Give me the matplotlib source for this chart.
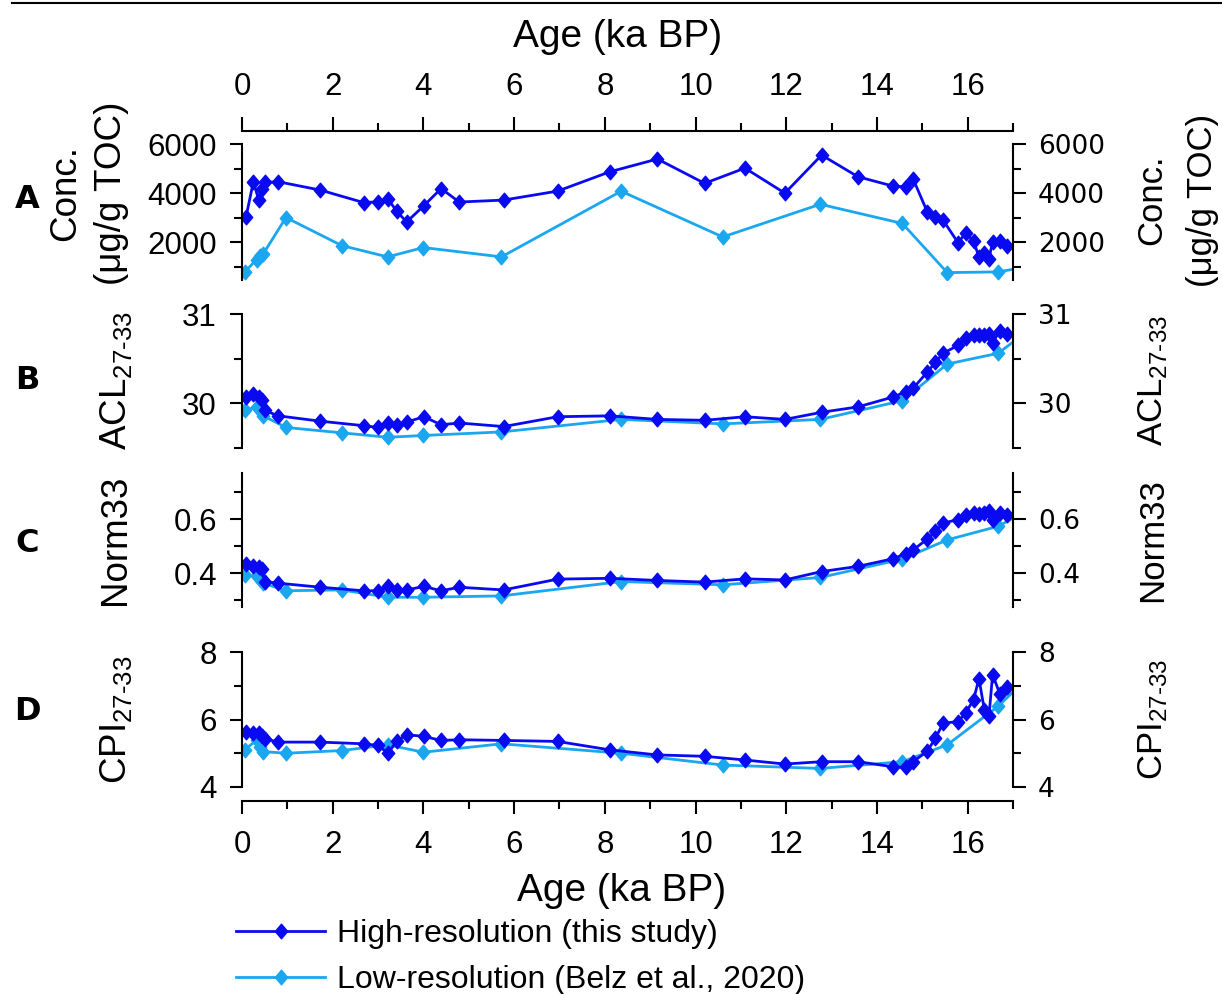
import matplotlib
matplotlib.use("Agg")
import matplotlib.pyplot as plt
from matplotlib.lines import Line2D
from matplotlib.path import Path

plt.rcParams['font.family'] = ['Liberation Sans', 'DejaVu Sans']
plt.rcParams['mathtext.fontset'] = 'custom'
plt.rcParams['mathtext.rm'] = 'Liberation Sans'
plt.rcParams['mathtext.it'] = 'Liberation Sans:italic'
plt.rcParams['mathtext.bf'] = 'Liberation Sans:bold'

# ---------------- data ----------------
age_hi = [0.09, 0.25, 0.37, 0.44, 0.50, 0.80, 1.73, 2.68, 3.00, 3.22, 3.41, 3.63,
          4.01, 4.39, 4.79, 5.77, 6.96, 8.11, 9.16, 10.20, 11.09, 11.97, 12.78,
          13.58, 14.35, 14.64, 14.80, 15.11, 15.29, 15.46, 15.79, 15.96, 16.13,
          16.25, 16.37, 16.47, 16.55, 16.71, 16.86]
conc_hi = [3040, 4465, 3720, 4150, 4440, 4465, 4125, 3620, 3650, 3760, 3270, 2830,
           3490, 4190, 3640, 3720, 4085, 4870, 5390, 4400, 5020, 4000, 5550,
           4670, 4290, 4260, 4570, 3240, 3040, 2900, 1980, 2390, 2050,
           1410, 1570, 1340, 2020, 2060, 1840]
acl_hi = [30.075, 30.10, 30.07, 30.04, 29.92, 29.86, 29.80, 29.75, 29.73, 29.78, 29.76, 29.79,
          29.85, 29.76, 29.78, 29.74, 29.85, 29.86, 29.82, 29.81, 29.85, 29.82, 29.90,
          29.96, 30.07, 30.13, 30.17, 30.35, 30.46, 30.56, 30.65, 30.73, 30.76,
          30.765, 30.76, 30.78, 30.68, 30.81, 30.78]
norm_hi = [0.433, 0.427, 0.422, 0.416, 0.369, 0.363, 0.348, 0.335, 0.335, 0.351, 0.336, 0.338,
           0.351, 0.335, 0.348, 0.338, 0.378, 0.381, 0.373, 0.367, 0.379, 0.375, 0.406,
           0.425, 0.453, 0.472, 0.486, 0.526, 0.554, 0.585, 0.598, 0.616, 0.622,
           0.620, 0.622, 0.628, 0.598, 0.622, 0.616]
cpi_hi = [5.64, 5.59, 5.60, 5.52, 5.43, 5.33, 5.33, 5.28, 5.23, 5.00, 5.36, 5.55,
          5.50, 5.38, 5.40, 5.38, 5.35, 5.10, 4.95, 4.91, 4.80, 4.68, 4.75,
          4.75, 4.60, 4.58, 4.75, 5.06, 5.45, 5.89, 5.94, 6.20, 6.59,
          7.21, 6.27, 6.09, 7.33, 6.76, 6.96]

age_lo = [0.06, 0.32, 0.39, 0.47, 0.97, 2.20, 3.21, 4.00, 5.72, 8.36, 10.60, 12.75,
          14.56, 15.55, 16.67, 17.30]
conc_lo = [800, 1300, 1430, 1540, 3010, 1870, 1410, 1790, 1410, 4080, 2220, 3550,
           2770, 770, 800, 1000]
acl_lo = [29.92, 29.96, 29.93, 29.86, 29.73, 29.67, 29.62, 29.64, 29.68, 29.82, 29.77, 29.82,
          30.03, 30.44, 30.56, 30.80]
norm_lo = [0.394, 0.388, 0.380, 0.363, 0.335, 0.338, 0.311, 0.311, 0.316, 0.369, 0.357, 0.384,
           0.452, 0.523, 0.573, 0.630]
cpi_lo = [5.11, 5.38, 5.20, 5.05, 5.00, 5.08, 5.25, 5.03, 5.28, 5.00, 4.65, 4.55,
          4.75, 5.25, 6.39, 7.20]

series_labels = ['High-resolution (this study)', 'Low-resolution (Belz et al., 2020)']
panel_letters = ['A', 'B', 'C', 'D']
ylabels = ['Conc.\n(μg/g TOC)', r'ACL$_{27\text{-}33}$', 'Norm33', r'CPI$_{27\text{-}33}$']
x_major = [0, 2, 4, 6, 8, 10, 12, 14, 16]
x_minor = [1, 3, 5, 7, 9, 11, 13, 15, 17]
x_label = 'Age (ka BP)'
y_major = [[2000, 4000, 6000], [30, 31], [0.4, 0.6], [4, 6, 8]]
y_major_labels = [['2000', '4000', '6000'], ['30', '31'], ['0.4', '0.6'], ['4', '6', '8']]
y_minor = [[1000, 3000, 5000], [29.5, 30.5], [0.3, 0.5, 0.7], [5, 7]]
y_limits = [(470, 6000), (29.5, 31), (0.275, 0.77), (4, 8)]

hi_series = [conc_hi, acl_hi, norm_hi, cpi_hi]
lo_series = [conc_lo, acl_lo, norm_lo, cpi_lo]

# ---------------- layout / style ----------------
W, H = 1222, 994
DARK = '#0A0AF2'
LIGHT = '#1AA7F0'
SPW = 1.5
LW = 2.0
X0, X1 = 242, 1013
panel_px = [(144, 280), (314, 448), (473, 607), (652, 787)]
letter_y = [200, 380, 543, 712]
TOP_AX_Y = 131
BOT_AX_Y = 801

diamond = Path([(0, 1), (0.85, 0), (0, -1), (-0.85, 0), (0, 1)],
               [Path.MOVETO, Path.LINETO, Path.LINETO, Path.LINETO, Path.CLOSEPOLY])
mk = dict(marker=diamond, markersize=10.5, markeredgewidth=1.0)

fig = plt.figure(figsize=(W / 100, H / 100), dpi=100)

def fy(py):
    return 1 - py / H

axw = (X1 - X0) / W

# document rule at top
fig.add_artist(Line2D([12 / W, 1], [fy(3), fy(3)], color='black', lw=1.5,
                      transform=fig.transFigure))

for i in range(4):
    top, bot = panel_px[i]
    ax = fig.add_axes([X0 / W, fy(bot), axw, (bot - top) / H])
    ax.patch.set_visible(False)
    ax.plot(age_lo, lo_series[i], color=LIGHT, lw=LW, markerfacecolor=LIGHT,
            markeredgecolor=LIGHT, **mk)
    ax.plot(age_hi, hi_series[i], color=DARK, lw=LW, markerfacecolor=DARK,
            markeredgecolor=DARK, **mk)
    ax.set_xlim(0, 17)
    ax.set_ylim(*y_limits[i])
    ax.spines['top'].set_visible(False)
    ax.spines['bottom'].set_visible(False)
    ax.spines['left'].set_linewidth(SPW)
    ax.spines['right'].set_linewidth(SPW)
    ax.set_xticks([])
    ax.set_yticks(y_major[i], labels=y_major_labels[i])
    ax.set_yticks(y_minor[i], minor=True)
    ax.tick_params(axis='y', which='both', left=True, right=True, labelleft=True,
                   labelright=True, direction='out', width=SPW)
    ax.tick_params(axis='y', which='major', length=9, pad=9, labelsize=22.5)
    ax.tick_params(axis='y', which='minor', length=5.5)
    for t in ax.yaxis.get_major_ticks():
        t.label2.set_fontfamily('DejaVu Sans')
        t.label2.set_fontsize(19)

    yc = (top + bot) / 2
    # panel letter
    fig.text(27 / W, fy(letter_y[i]), panel_letters[i], ha='center', va='center',
             fontsize=23, fontweight='bold', family='DejaVu Sans')
    # left / right y-labels
    if i == 0:
        fig.text(89 / W, fy(193), ylabels[i], rotation=90, ha='center', va='center',
                 fontsize=26.5, multialignment='center', linespacing=1.4)
        fig.text(1177 / W, fy(200), ylabels[i], rotation=90, ha='center', va='center',
                 fontsize=25, multialignment='center', linespacing=1.7)
    else:
        fig.text(116 / W, fy(yc), ylabels[i], rotation=90, ha='center', va='center',
                 fontsize=26.5)
        fig.text(1153 / W, fy(yc), ylabels[i], rotation=90, ha='center', va='center',
                 fontsize=25)

# top x axis
axt = fig.add_axes([X0 / W, fy(TOP_AX_Y), axw, 1e-4])
axt.patch.set_visible(False)
for s in ['left', 'right', 'bottom']:
    axt.spines[s].set_visible(False)
axt.spines['top'].set_linewidth(SPW)
axt.set_xlim(0, 17)
axt.set_yticks([])
axt.xaxis.tick_top()
axt.set_xticks(x_major)
axt.set_xticks(x_minor, minor=True)
axt.tick_params(axis='x', which='both', direction='out', width=SPW, top=True, bottom=False,
                labeltop=True, labelbottom=False)
axt.tick_params(axis='x', which='major', length=10, pad=11, labelsize=22.5)
axt.tick_params(axis='x', which='minor', length=5.5)

# bottom x axis
axb = fig.add_axes([X0 / W, fy(BOT_AX_Y), axw, 1e-4])
axb.patch.set_visible(False)
for s in ['left', 'right', 'top']:
    axb.spines[s].set_visible(False)
axb.spines['bottom'].set_linewidth(SPW)
axb.set_xlim(0, 17)
axb.set_yticks([])
axb.set_xticks(x_major)
axb.set_xticks(x_minor, minor=True)
axb.tick_params(axis='x', which='both', direction='out', width=SPW)
axb.tick_params(axis='x', which='major', length=9, pad=12, labelsize=22.5)
axb.tick_params(axis='x', which='minor', length=5.5)

fig.text(618 / W, fy(37), x_label, ha='center', va='center', fontsize=28)
fig.text(622 / W, fy(891), x_label, ha='center', va='center', fontsize=28)

# legend
handles = [Line2D([], [], color=DARK, lw=LW, markerfacecolor=DARK, markeredgecolor=DARK, **mk),
           Line2D([], [], color=LIGHT, lw=LW, markerfacecolor=LIGHT, markeredgecolor=LIGHT, **mk)]
fig.legend(handles, series_labels, loc='upper left', bbox_to_anchor=(236 / W, fy(919)),
           frameon=False, fontsize=23, handlelength=2.8, handletextpad=0.35,
           labelspacing=0.5, borderpad=0, borderaxespad=0, numpoints=1)

fig.savefig('out.png', dpi=100)
